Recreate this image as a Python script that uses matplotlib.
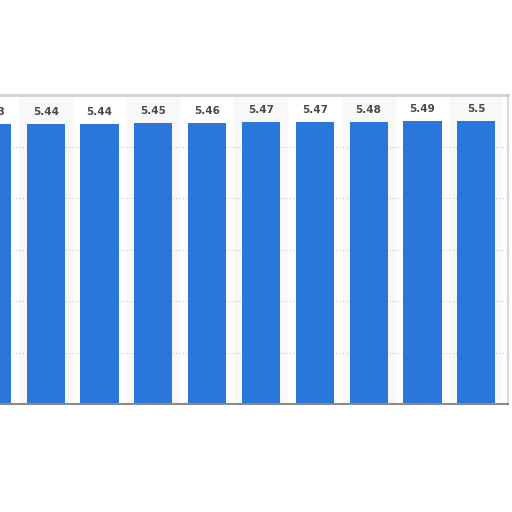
import numpy as np
import matplotlib
matplotlib.use("Agg")
from matplotlib import pyplot as plt

# values (first bar is cut off at the left edge)
categories = ["c0", "c1", "c2", "c3", "c4", "c5", "c6", "c7", "c8", "c9"]
values = [5.43, 5.44, 5.44, 5.45, 5.46, 5.47, 5.47, 5.48, 5.49, 5.5]
labels = ["5.43", "5.44", "5.44", "5.45", "5.46", "5.47", "5.47", "5.48", "5.49", "5.5"]

fig = plt.figure(figsize=(5.12, 5.12), dpi=100)
fig.patch.set_facecolor("white")
# axes runs off the left side of the picture, like the cropped screenshot
ax = fig.add_axes([-35 / 512, 108 / 512, 543 / 512, 309 / 512])
ax.set_facecolor("white")

x = np.arange(len(categories))
# faint alternating column bands behind the bars
for i in x:
    if i % 2 == 1:
        ax.axvspan(i - 0.5, i + 0.5, color="#f8f8f8", zorder=0, lw=0)

ax.set_ylim(0, 6)
ax.set_xlim(-0.5, 9.59)
ax.set_yticks([1, 2, 3, 4, 5])
ax.grid(axis="y", linestyle=(0, (1, 2)), color="#c8c8c8", lw=0.8, zorder=1)
ax.set_axisbelow(True)

bars = ax.bar(x, values, width=0.71, color="#2a77dc", zorder=2)
for b, lab in zip(bars, labels):
    ax.annotate(lab, (b.get_x() + b.get_width() / 2, b.get_height()),
                xytext=(0, 5), textcoords="offset points",
                ha="center", va="bottom", fontsize=7.5, fontweight="bold",
                color="#4a4a4a")

ax.tick_params(left=False, bottom=False, labelleft=False, labelbottom=False)
ax.spines["left"].set_visible(False)
ax.spines["top"].set_color("#d2d2d2")
ax.spines["top"].set_linewidth(2)
ax.spines["right"].set_color("#dadada")
ax.spines["right"].set_linewidth(1.5)
ax.spines["bottom"].set_color("#8a8a8a")
ax.spines["bottom"].set_linewidth(1.5)

fig.savefig("out.png", dpi=100)
